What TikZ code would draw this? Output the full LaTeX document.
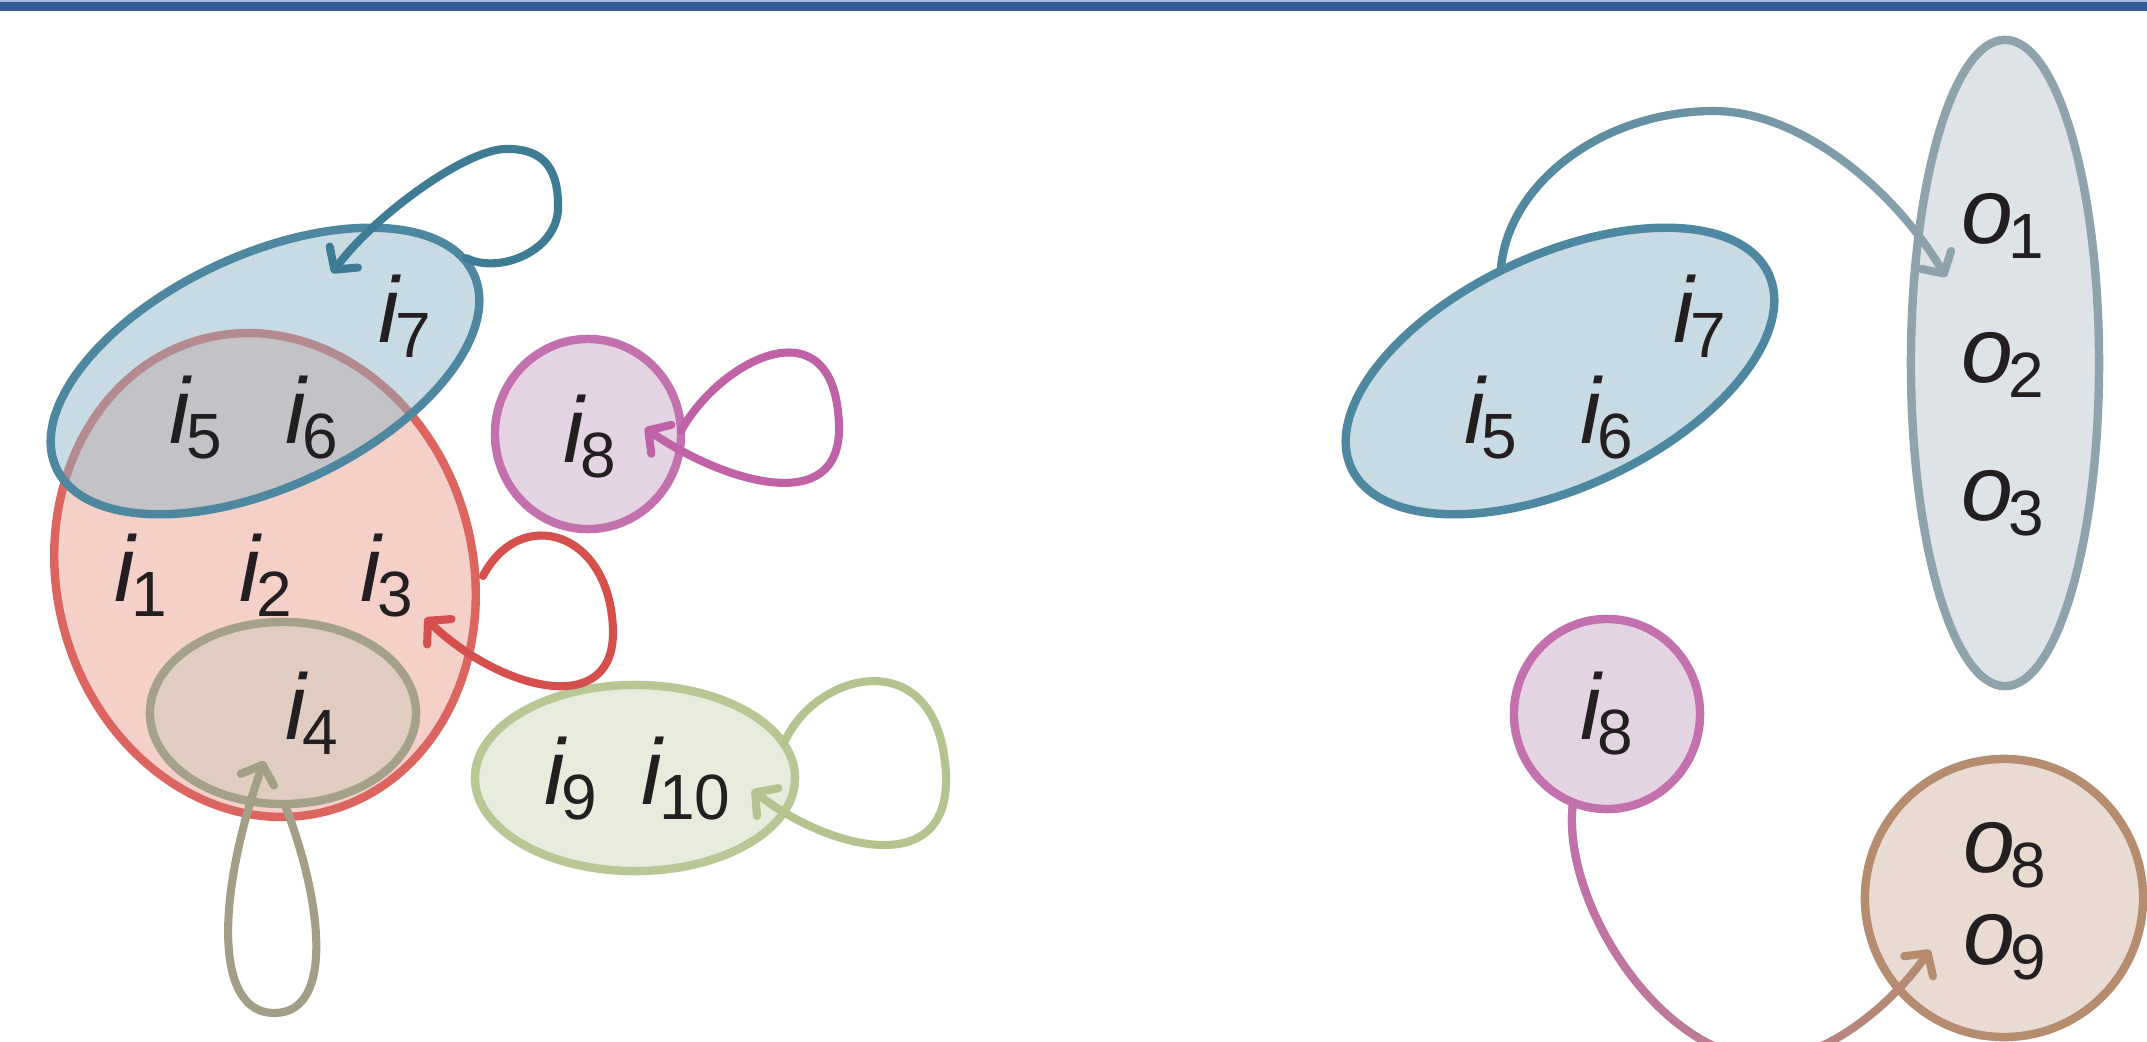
\documentclass[tikz,border=0pt]{standalone}
\usepackage{fontspec}
\setmainfont{Liberation Sans}
\usetikzlibrary{shapes.geometric,arrows.meta,fadings}
\definecolor{band}{HTML}{375B98}
\definecolor{bandlt}{HTML}{A9BCDD}
\definecolor{bluel}{HTML}{4E88A0}
\definecolor{bluef}{RGB}{138,179,198}
\definecolor{bluefo}{HTML}{C8DBE4}
\definecolor{bluearr}{HTML}{3E7B95}
\definecolor{redl}{HTML}{DC6560}
\definecolor{redf}{HTML}{F5D0C9}
\definecolor{redarr}{HTML}{D5504C}
\definecolor{grayl}{HTML}{A5A08A}
\definecolor{grayf}{HTML}{E0CCC1}
\definecolor{grayarr}{HTML}{A39F87}
\definecolor{magl}{HTML}{C270AE}
\definecolor{magf}{HTML}{E4D3E2}
\definecolor{magarr}{HTML}{BF62A8}
\definecolor{grnl}{HTML}{B9C795}
\definecolor{grnf}{HTML}{E8ECDD}
\definecolor{grnarr}{HTML}{B5C48E}
\definecolor{ol}{HTML}{8FA3AD}
\definecolor{of}{HTML}{DDE3E7}
\definecolor{brl}{HTML}{B58C6E}
\definecolor{brf}{HTML}{E9DBD1}
\definecolor{ink}{HTML}{231F20}
\newcommand{\ilab}[2]{\textit{#1}\kern-1.5pt\raisebox{-4.4pt}{\fontsize{18.2}{18.2}\selectfont #2}}
\begin{document}
\begin{tikzpicture}[x=0.01cm,y=-0.01cm,
  setbox/.style={draw, ellipse, line width=2.4pt, inner sep=0pt, outer sep=0pt},
  lbl/.style={anchor=base, text=ink, inner sep=0pt, font=\fontsize{26.5}{26.5}\selectfont},
  arr/.style={line width=2.3pt, line cap=round, -{Straight Barb[length=4.5pt,width=10pt,round]}},
  plain/.style={line width=2.3pt, line cap=round}]
\useasboundingbox (0,0) rectangle (2147,1042);
\clip (0,0) rectangle (2147,1042);
\fill[bandlt] (0,0) rectangle (2147,3);
\fill[band] (0,2) rectangle (2147,11);

% left group
\node[setbox, draw=redl, fill=redf, minimum width=4.16cm, minimum height=4.88cm, rotate=15] (red) at (265,575) {};
\node[setbox, draw=grayl, fill=grayf, minimum width=2.66cm, minimum height=1.82cm] (g4) at (283,713) {};
\node[setbox, draw=bluel, fill=bluef, fill opacity=0.47, minimum width=4.6cm, minimum height=2.32cm, rotate=25] (bL) at (265,371) {};
\node[setbox, draw=magl, fill=magf, minimum width=1.86cm, minimum height=1.9cm] (m8L) at (588,434) {};
\node[setbox, draw=grnl, fill=grnf, minimum width=3.2cm, minimum height=1.86cm] (gr) at (635,778) {};

% right group
\node[setbox, draw=bluel, fill=bluefo, minimum width=4.6cm, minimum height=2.32cm, rotate=25] (bR) at (1560,371) {};
\node[setbox, draw=ol, fill=of, minimum width=1.88cm, minimum height=6.46cm] (O) at (2005,363) {};
\node[setbox, draw=magl, fill=magf, minimum width=1.86cm, minimum height=1.9cm] (m8R) at (1607,714) {};
\node[setbox, draw=brl, fill=brf, minimum width=2.78cm, minimum height=2.78cm] (br) at (2004,898) {};

% connector end points
\coordinate (bLs) at (466,258);
\coordinate (bLt) at (332,273);
\coordinate (rs) at (483,576);
\coordinate (rt) at (425,618);
\coordinate (g4t) at (264,761);
\coordinate (grt) at (752,790);
\coordinate (m8t) at (645,428);
\coordinate (bRs) at (1501,268);
\coordinate (Ot) at (1946,277);
\coordinate (brt) at (1930,950);

% self loops
\draw[arr, bluearr] (bLs) .. controls (500,275) and (560,250) .. (558,205)
  .. controls (558,165) and (540,148) .. (505,149)
  .. controls (465,150) and (375,215) .. (bLt);
\draw[arr, redarr] (rs) .. controls (520,505) and (610,530) .. (613,630)
  .. controls (615,720) and (500,690) .. (rt);
\draw[arr, grayarr] (g4.-89) .. controls (322,900) and (335,1012) .. (275,1013)
  .. controls (215,1014) and (215,900) .. (g4t);
\draw[arr, grnarr] (gr.13) .. controls (815,670) and (940,640) .. (946,775)
  .. controls (950,880) and (830,850) .. (grt);
\draw[arr, magarr] (m8L.2) .. controls (720,360) and (835,300) .. (839,425)
  .. controls (842,520) and (720,480) .. (m8t);

% arcs on the right
\draw[arr, ol] (bRs) .. controls (1508,185) and (1600,112) .. (1712,111)
  .. controls (1800,110) and (1895,190) .. (Ot);
\draw[plain, bluel, path fading=east] (bRs) .. controls (1508,185) and (1600,112) .. (1712,111)
  .. controls (1800,110) and (1895,190) .. (Ot);
\draw[arr, brl] (m8R.249) .. controls (1560,900) and (1660,1059) .. (1768,1059)
  .. controls (1830,1059) and (1895,1000) .. (brt);
\draw[plain, magl, path fading=east] (m8R.249) .. controls (1560,900) and (1660,1059) .. (1768,1059)
  .. controls (1830,1059) and (1895,1000) .. (brt);

% labels
\node[lbl] (t1) at (141,601) {\ilab{i}{1}};
\node[lbl] (t2) at (266,601) {\ilab{i}{2}};
\node[lbl] (t3) at (387,601) {\ilab{i}{3}};
\node[lbl] (t4) at (312,739) {\ilab{i}{4}};
\node[lbl] (t5) at (196,443) {\ilab{i}{5}};
\node[lbl] (t6) at (312,443) {\ilab{i}{6}};
\node[lbl] (t7) at (405,342) {\ilab{i}{7}};
\node[lbl] (t8) at (590,462) {\ilab{i}{8}};
\node[lbl] (t9) at (571,804) {\ilab{i}{9}};
\node[lbl] (t10) at (686,804) {\ilab{i}{10}};
\node[lbl] (r5) at (1491,443) {\ilab{i}{5}};
\node[lbl] (r6) at (1607,443) {\ilab{i}{6}};
\node[lbl] (r7) at (1700,342) {\ilab{i}{7}};
\node[lbl] (r8) at (1607,739) {\ilab{i}{8}};
\node[lbl] (o1) at (2003,243) {\ilab{o}{1}};
\node[lbl] (o2) at (2003,382) {\ilab{o}{2}};
\node[lbl] (o3) at (2003,520) {\ilab{o}{3}};
\node[lbl] (o8) at (2005,872) {\ilab{o}{8}};
\node[lbl] (o9) at (2005,964) {\ilab{o}{9}};
\end{tikzpicture}
\end{document}
